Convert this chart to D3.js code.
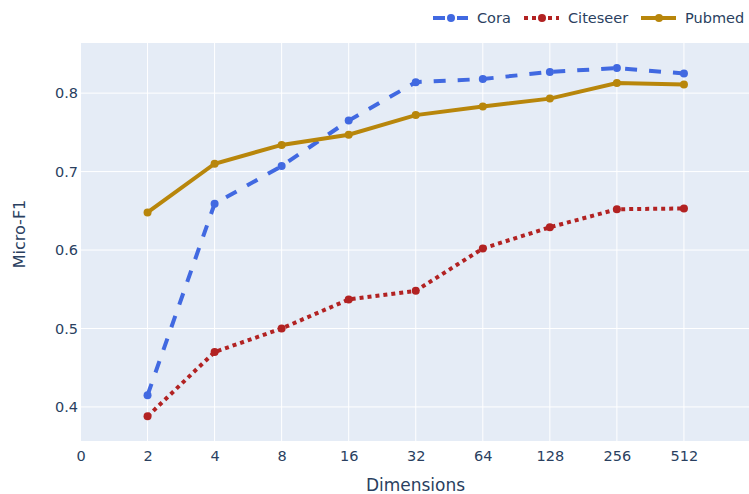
<!DOCTYPE html>
<html>
<head>
<meta charset="utf-8">
<script src="https://cdn.jsdelivr.net/npm/d3@7"></script>
<style>
  body { margin: 0; background: #fff; }
  text { font-family: "DejaVu Sans", sans-serif; fill: #2a3f5f; }
</style>
</head>
<body>
<svg width="749" height="494"></svg>
<script>
// data
var dimensions = ["0", "2", "4", "8", "16", "32", "64", "128", "256", "512"];
var cora     = [0.415, 0.659, 0.707, 0.765, 0.814, 0.818, 0.827, 0.832, 0.825];
var citeseer = [0.388, 0.470, 0.500, 0.537, 0.548, 0.602, 0.629, 0.652, 0.653];
var pubmed   = [0.648, 0.710, 0.734, 0.747, 0.772, 0.783, 0.793, 0.813, 0.811];
var yTicks = [0.4, 0.5, 0.6, 0.7, 0.8];

var series = [
  {name: "Cora", values: cora, color: "#4169E1", dash: "12,12"},
  {name: "Citeseer", values: citeseer, color: "#B22222", dash: "4,4"},
  {name: "Pubmed", values: pubmed, color: "#B8860B", dash: null}
];

var svg = d3.select("svg"),
    pLeft = 81, pRight = 751, pTop = 43, pBottom = 441, W = 749;

// x = index of the dimension label, data starts at index 1 ("2")
var x = d3.scaleLinear().domain([0, 10]).range([pLeft - 0.5, pRight]);
var y = d3.scaleLinear().domain([0.3566, 0.8639]).range([pBottom, pTop]);

svg.append("clipPath").attr("id", "clip")
  .append("rect").attr("x", pLeft).attr("y", pTop)
  .attr("width", W - pLeft).attr("height", pBottom - pTop);

// plot background
svg.append("rect")
    .attr("x", pLeft).attr("y", pTop)
    .attr("width", W - pLeft).attr("height", pBottom - pTop)
    .attr("fill", "#E5ECF6");

// gridlines
var grid = svg.append("g").attr("clip-path", "url(#clip)");
grid.selectAll(".vgrid")
  .data(d3.range(1, dimensions.length))
  .enter().append("line")
    .attr("x1", function(d) { return x(d); })
    .attr("x2", function(d) { return x(d); })
    .attr("y1", pTop).attr("y2", pBottom)
    .attr("stroke", "#fff").attr("stroke-width", 1);
grid.selectAll(".hgrid")
  .data(yTicks)
  .enter().append("line")
    .attr("x1", pLeft).attr("x2", W)
    .attr("y1", function(d) { return y(d); })
    .attr("y2", function(d) { return y(d); })
    .attr("stroke", "#fff").attr("stroke-width", 1);

// axes
svg.append("g")
    .attr("transform", "translate(0," + pBottom + ")")
    .call(d3.axisBottom(x).tickValues(d3.range(0, dimensions.length))
      .tickFormat(function(i) { return dimensions[i]; }).tickSize(0).tickPadding(10))
    .call(function(g) { g.select(".domain").remove(); })
    .selectAll("text").style("font-size", "14.5px").attr("fill", "#2a3f5f");

svg.append("g")
    .attr("transform", "translate(" + pLeft + ",0)")
    .call(d3.axisLeft(y).tickValues(yTicks).tickFormat(d3.format(".1f"))
      .tickSize(0).tickPadding(3))
    .call(function(g) { g.select(".domain").remove(); })
    .selectAll("text").style("font-size", "14.5px").attr("fill", "#2a3f5f");

// axis titles
svg.append("text")
    .attr("x", 415.5).attr("y", 491)
    .attr("text-anchor", "middle")
    .style("font-size", "17px")
    .text("Dimensions");

svg.append("text")
    .attr("transform", "translate(25,234) rotate(-90)")
    .attr("text-anchor", "middle")
    .style("font-size", "16px")
    .text("Micro-F1");

// lines and markers
var line = d3.line()
    .x(function(d, i) { return x(i + 1); })
    .y(function(d) { return y(d); });

var plot = svg.append("g").attr("clip-path", "url(#clip)");
series.forEach(function(s) {
  plot.append("path")
      .datum(s.values)
      .attr("d", line)
      .attr("fill", "none")
      .attr("stroke", s.color)
      .attr("stroke-width", 4)
      .attr("stroke-dasharray", s.dash);
  plot.selectAll(null)
    .data(s.values)
    .enter().append("circle")
      .attr("cx", function(d, i) { return x(i + 1); })
      .attr("cy", function(d) { return y(d); })
      .attr("r", 4)
      .attr("fill", s.color);
});

// legend
var legendX = [433, 524, 641];
var legend = svg.selectAll(".legend")
  .data(series)
  .enter().append("g")
    .attr("transform", function(d, i) { return "translate(" + legendX[i] + ",18)"; });
legend.append("line")
    .attr("x1", 0).attr("x2", 35)
    .attr("stroke", function(d) { return d.color; })
    .attr("stroke-width", 4)
    .attr("stroke-dasharray", function(d) { return d.dash; });
legend.append("circle")
    .attr("cx", 18).attr("r", 4)
    .attr("fill", function(d) { return d.color; });
legend.append("text")
    .attr("x", 44).attr("dy", "0.35em")
    .style("font-size", "14.5px")
    .text(function(d) { return d.name; });
</script>
</body>
</html>
